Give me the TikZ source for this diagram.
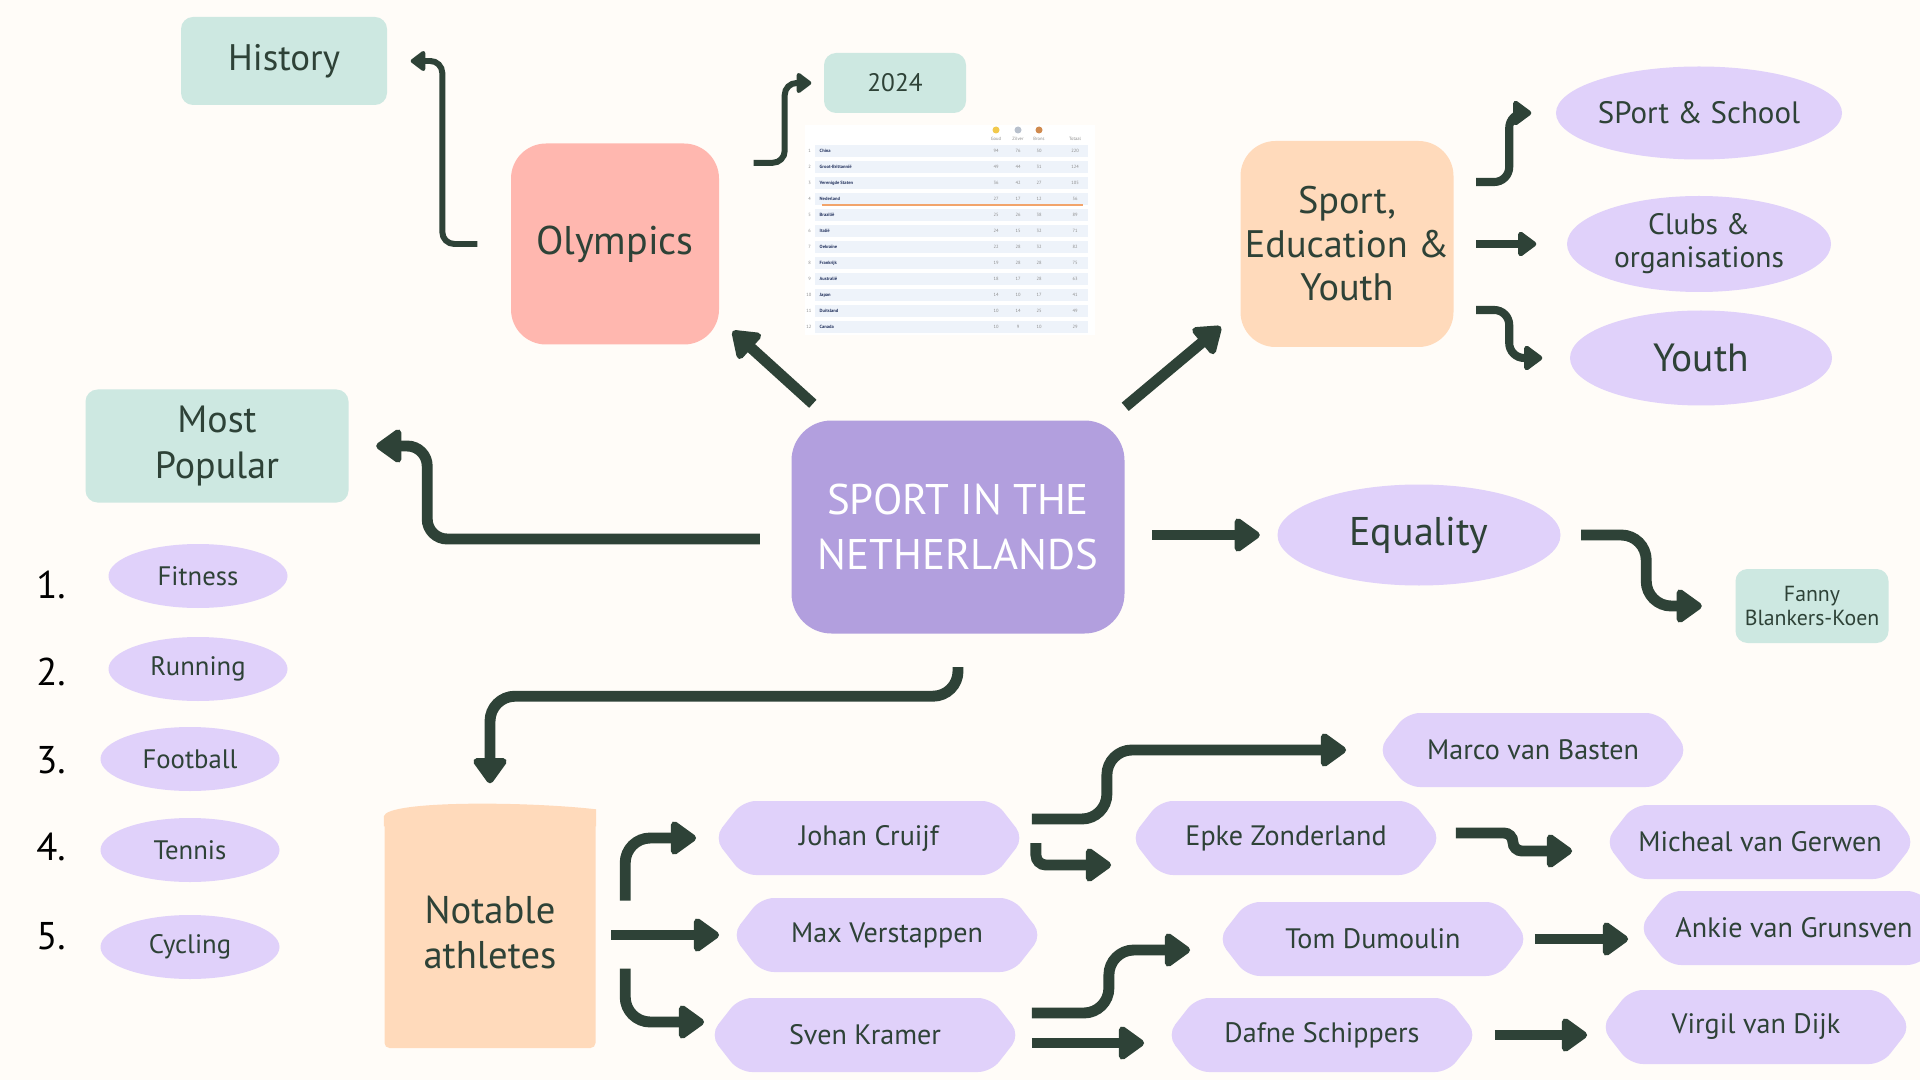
\documentclass[tikz,border=0pt]{standalone}
\usepackage{fontspec}
\setmainfont{PT Sans}
\usepackage{tikz}
\usetikzlibrary{shapes.geometric,shapes.symbols,arrows.meta}
\definecolor{ink}{HTML}{2E4237}
\definecolor{paper}{HTML}{FFFCF8}
\definecolor{mint}{HTML}{CDE8E1}
\definecolor{rose}{HTML}{FFB7AF}
\definecolor{apricot}{HTML}{FFDABB}
\definecolor{lilac}{HTML}{E0D1FA}
\definecolor{hubviolet}{HTML}{B29FDE}
\definecolor{rowblue}{HTML}{EEF3FA}
\definecolor{navy}{HTML}{24335E}
\definecolor{tangerine}{HTML}{F2A46B}
\definecolor{medalgold}{HTML}{F2C94C}
\definecolor{medalsilver}{HTML}{B8C0CC}
\definecolor{medalbronze}{HTML}{D08A4E}
\newcommand{\fsz}[2]{\fontsize{#1}{#2}\selectfont}

\begin{document}
\begin{tikzpicture}[text=ink,
  card/.style={fill=mint,rounded corners=1.2mm,inner sep=0pt,align=center},
  blob/.style={rounded corners=3.5mm,inner sep=0pt,align=center},
  oval/.style={ellipse,fill=lilac,inner sep=0pt,align=center},
  athlete/.style={signal,signal to=west and east,signal pointer angle=104,fill=lilac,
    rounded corners=1.3mm,minimum width=31mm,minimum height=7.4mm,inner sep=0pt,font=\fsz{8}{9.6}},
  rank/.style={text=black,font=\fsz{11}{13}},
  tabtxt/.style={font=\fsz{1.3}{1.5},inner sep=0pt,text=black!45},
  arrw/.style={draw=ink,line width=3.1pt,rounded corners=2.5mm,-{Triangle[round,length=2.8mm,width=3.8mm]}},
  midarrw/.style={arrw,line width=2.3pt,rounded corners=1.5mm,-{Triangle[round,length=2mm,width=2.8mm]}},
  thinarrw/.style={arrw,line width=1.7pt,rounded corners=1.2mm,-{Triangle[round,length=1.6mm,width=2.3mm]}}]
\useasboundingbox (0,0) rectangle (19.2,-10.8);
\fill[paper] (0,0) rectangle (19.2,-10.8);

\node[card,minimum width=20.6mm,minimum height=8.8mm,font=\fsz{10.5}{12}] (hist) at (2.84,-0.61) {History};
\node[blob,fill=rose,minimum width=20.8mm,minimum height=20.1mm,font=\fsz{11.4}{13}] (oly) at (6.15,-2.44) {Olympics};
\node[card,minimum width=14.2mm,minimum height=6mm,font=\fsz{7.2}{8.6}] (y24) at (8.95,-0.83) {2024};
\node[blob,fill=apricot,minimum width=21.3mm,minimum height=20.6mm,font=\fsz{10.9}{12.4}] (sey) at (13.47,-2.44)
  {Sport,\\Education \&\\Youth};
\node[oval,minimum width=26.4mm,minimum height=9.3mm,font=\fsz{8.8}{10}] (school) at (16.99,-1.13) {SPort \& School};
\node[oval,minimum width=26.4mm,minimum height=9.6mm,font=\fsz{8.4}{9.4}] (clubs) at (16.99,-2.44) {Clubs \&\\organisations};
\node[oval,minimum width=26.2mm,minimum height=9.5mm,font=\fsz{11.2}{13}] (youth) at (17.01,-3.58) {Youth};
\node[card,minimum width=26.3mm,minimum height=11.3mm,font=\fsz{10.8}{12.9}] (pop) at (2.17,-4.46) {Most\\Popular};
\node[blob,fill=hubviolet,text=white,rounded corners=4mm,minimum width=33.3mm,minimum height=21.3mm,
  font=\fsz{12.2}{15.7}] (hub) at (9.58,-5.27) {SPORT IN THE\\NETHERLANDS};
\node[oval,minimum width=28.3mm,minimum height=10.1mm,font=\fsz{11.4}{13}] (equal) at (14.19,-5.35) {Equality};
\node[card,minimum width=15.3mm,minimum height=7.4mm,font=\fsz{6.2}{6.8}] (fanny) at (18.12,-6.06) {Fanny\\Blankers-Koen};

% medal table (screenshot in the original)
\node[fill=white,minimum width=29mm,minimum height=21mm,inner sep=0pt] (medals) at (9.50,-2.30) {};
\fill[medalgold] (9.96,-1.30) circle (0.35mm);
\fill[medalsilver] (10.18,-1.30) circle (0.35mm);
\fill[medalbronze] (10.39,-1.30) circle (0.35mm);
\node[tabtxt] (hgd) at (9.96,-1.39) {Goud};
\node[tabtxt] (hsv) at (10.18,-1.39) {Zilver};
\node[tabtxt] (hbz) at (10.39,-1.39) {Brons};
\node[tabtxt] (htot) at (10.75,-1.39) {Totaal};
\foreach \cty/\gd/\sv/\bz/\tot [count=\rw] in {China/94/76/50/220, Groot-Brittannië/49/44/31/124,
    Verenigde Staten/36/42/27/105, Nederland/27/17/12/56, Brazilië/25/26/38/89, Italië/24/15/32/71,
    Oekraïne/22/28/32/82, Frankrijk/19/28/28/75, Australië/18/17/28/63, Japan/14/10/17/41,
    Duitsland/10/14/25/49, Canada/10/9/10/29}{
  \pgfmathsetmacro\yy{-1.51-0.16*(\rw-1)}
  \fill[rowblue] (8.15,{\yy+0.06}) rectangle (10.88,{\yy-0.06});
  \node[tabtxt,anchor=east] (rk\rw) at (8.12,\yy) {\rw};
  \node[tabtxt,anchor=west,text=navy,font=\fsz{1.3}{1.5}\bfseries] (cty\rw) at (8.19,\yy) {\cty};
  \node[tabtxt] (gd\rw) at (9.96,\yy) {\gd};
  \node[tabtxt] (sv\rw) at (10.18,\yy) {\sv};
  \node[tabtxt] (bz\rw) at (10.39,\yy) {\bz};
  \node[tabtxt] (tot\rw) at (10.75,\yy) {\tot};
}
\draw[tangerine,line width=0.5pt] (8.22,-2.05) -- (10.83,-2.05);

\node[rank] (n1) at (0.51,-5.85) {1.};
\node[rank] (n2) at (0.51,-6.72) {2.};
\node[rank] (n3) at (0.51,-7.60) {3.};
\node[rank] (n4) at (0.51,-8.47) {4.};
\node[rank] (n5) at (0.51,-9.36) {5.};
\node[oval,minimum width=17.9mm,minimum height=6.4mm,font=\fsz{7.6}{9}] (fit) at (1.98,-5.76) {Fitness};
\node[oval,minimum width=17.9mm,minimum height=6.4mm,font=\fsz{7.6}{9}] (run) at (1.98,-6.69) {Running};
\node[oval,minimum width=17.9mm,minimum height=6.4mm,font=\fsz{7.6}{9}] (foot) at (1.90,-7.59) {Football};
\node[oval,minimum width=17.9mm,minimum height=6.4mm,font=\fsz{7.6}{9}] (ten) at (1.90,-8.50) {Tennis};
\node[oval,minimum width=17.9mm,minimum height=6.4mm,font=\fsz{7.6}{9}] (cyc) at (1.90,-9.47) {Cycling};

\node[fill=apricot,rounded corners=0.5mm,minimum width=21.1mm,minimum height=23.1mm,inner sep=0pt,align=center,
  font=\fsz{11}{12.6}] (notable) at (4.90,-9.325) {Notable\\athletes};
% rounded top of the Notable box, overlapping the box so no seam shows
\fill[apricot] ([yshift=-1mm]notable.north west) -- (notable.north west)
  .. controls ([shift={(0.3mm,1.6mm)}]notable.north west) and ([shift={(-7mm,1.5mm)}]notable.north east) ..
  ([yshift=0.7mm]notable.north east) -- ([yshift=-1mm]notable.north east) -- cycle;

\node[athlete] (johan) at (8.69,-8.38) {Johan Cruijf};
\node[athlete] (max) at (8.87,-9.35) {Max Verstappen};
\node[athlete] (sven) at (8.65,-10.35) {Sven Kramer};
\node[athlete] (marco) at (15.33,-7.50) {Marco van Basten};
\node[athlete] (epke) at (12.86,-8.38) {Epke Zonderland};
\node[athlete] (micheal) at (17.60,-8.42) {Micheal van Gerwen};
\node[athlete] (tom) at (13.73,-9.39) {Tom Dumoulin};
\node[athlete] (ankie) at (17.94,-9.28) {Ankie van Grunsven};
\node[athlete] (dafne) at (13.22,-10.35) {Dafne Schippers};
\node[athlete] (virgil) at (17.56,-10.27) {Virgil van Dijk};

\draw[arrw] ([shift={(2.2mm,1.6mm)}]hub.north west) -- ([shift={(1.3mm,1.4mm)}]oly.south east);
\draw[arrw] ([yshift=1.3mm]hub.north east) -- ([shift={(-1.9mm,2.1mm)}]sey.south west);
\draw[arrw,rounded corners=2mm] ([shift={(-3.1mm,-1.2mm)}]hub.west) -| ([xshift=7.8mm]pop.east) -- ([xshift=2.7mm]pop.east);
\draw[thinarrw] ([xshift=-3.3mm]oly.west) -- ++(-3.5mm,0) |- ([xshift=2.3mm]hist.east);
\draw[thinarrw] ([shift={(3.4mm,-2mm)}]oly.north east) -- ++(3.1mm,0) |- ([xshift=-1.2mm]y24.west);
\draw[midarrw] ([shift={(2.2mm,6.2mm)}]sey.east) -- ++(3.3mm,0) |- ([xshift=-2.4mm]school.west);
\draw[midarrw] ([xshift=2.2mm]sey.east) -- ([xshift=-3mm]clubs.west);
\draw[midarrw] ([shift={(2.2mm,-6.6mm)}]sey.east) -- ++(3.3mm,0) |- ([xshift=-2.7mm]youth.west);
\draw[arrw] ([xshift=2.7mm]equal.west -| hub.east) -- ([xshift=-1.7mm]equal.west);
\draw[arrw] ([xshift=2mm]equal.east) -- ++(6.5mm,0) |- ([xshift=-3.3mm]fanny.west);
\draw[arrw] ([yshift=-3.3mm]hub.south) -- ++(0,-2.9mm) -| ([yshift=3.3mm]notable.north);
\draw[arrw] ([shift={(2.9mm,3.2mm)}]notable.east) |- ([xshift=-1.7mm]johan.west);
\draw[arrw] ([xshift=1.5mm]max.west -| notable.east) -- ([xshift=-1.2mm]max.west);
\draw[arrw] ([shift={(2.9mm,-3.6mm)}]notable.east) |- ([shift={(-0.5mm,1.3mm)}]sven.west);
\draw[arrw] ([shift={(0.7mm,1.9mm)}]johan.east) -- ++(7.5mm,0) |- ([xshift=-3.1mm]marco.west);
\draw[arrw,rounded corners=1mm] ([shift={(1.1mm,-0.5mm)}]johan.east) |- ([shift={(-1.9mm,-2.7mm)}]epke.west);
\draw[arrw,rounded corners=0.9mm] ([shift={(1.4mm,0.5mm)}]epke.east) -- ++(5.7mm,0) |- ([shift={(-3.2mm,-0.9mm)}]micheal.west);
\draw[arrw] ([shift={(1.1mm,2.2mm)}]sven.east) -- ++(7.7mm,0) |- ([shift={(-2.7mm,-1.1mm)}]tom.west);
\draw[arrw] ([shift={(1.1mm,-0.8mm)}]sven.east) -- ([shift={(-2.2mm,-0.8mm)}]dafne.west);
\draw[arrw] ([xshift=0.6mm]tom.east) -- ([xshift=-1mm]tom.east -| ankie.west);
\draw[arrw] ([xshift=1.7mm]dafne.east) -- ([xshift=-1.3mm]dafne.east -| virgil.west);
\end{tikzpicture}
\end{document}
